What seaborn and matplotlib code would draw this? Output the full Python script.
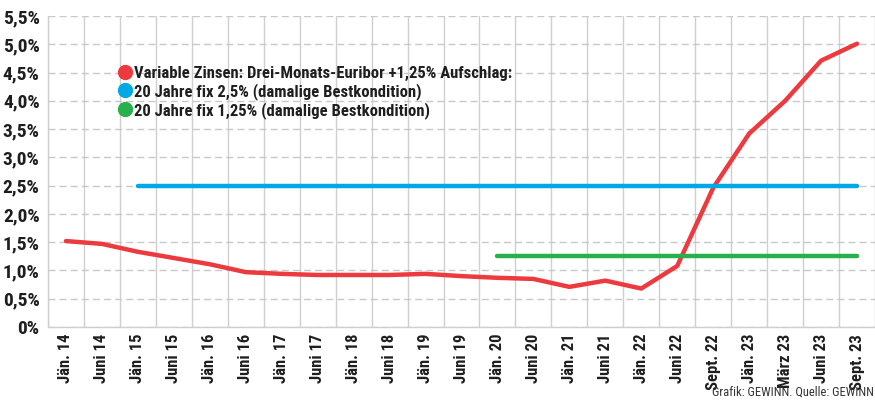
import numpy as np
import pandas as pd
import seaborn as sns
import matplotlib.pyplot as plt
from matplotlib import font_manager as fm
from matplotlib.lines import Line2D

# x categories (dates)
labels = ["Jän. 14", "Juni 14", "Jän. 15", "Juni 15", "Jän. 16", "Juni 16",
          "Jän. 17", "Juni 17", "Jän. 18", "Juni 18", "Jän. 19", "Juni 19",
          "Jän. 20", "Juni 20", "Jän. 21", "Juni 21", "Jän. 22", "Juni 22",
          "Sept. 22", "Jän. 23", "März 23", "Juni 23", "Sept. 23"]

# variable rate: 3M-Euribor + 1.25%
variabel = [1.52, 1.47, 1.33, 1.22, 1.11, 0.97, 0.94, 0.92, 0.92, 0.92,
            0.94, 0.90, 0.87, 0.85, 0.71, 0.82, 0.68, 1.08, 2.46, 3.42,
            4.00, 4.71, 5.01]
fix_25 = [np.nan, np.nan] + [2.5] * 21
fix_125 = [np.nan] * 12 + [1.25] * 11

names = ["Variable Zinsen: Drei-Monats-Euribor +1,25% Aufschlag:",
         "20 Jahre fix 2,5% (damalige Bestkondition)",
         "20 Jahre fix 1,25% (damalige Bestkondition)"]
colors = ["#ec3a3f", "#00a9e6", "#27b04b"]

pos = np.arange(len(labels))
df = pd.DataFrame({"pos": np.tile(pos, 3),
                   "wert": variabel + fix_25 + fix_125,
                   "serie": np.repeat(names, len(labels))})

# pick a condensed font that is installed
installed = {f.name for f in fm.fontManager.ttflist}
wanted = ['Roboto Condensed', 'Archivo Narrow', 'Liberation Sans Narrow',
          'DejaVu Sans Condensed']
fam = [f for f in wanted if f in installed][:1] + ['DejaVu Sans']

sns.set_style("white")
plt.rcParams['font.family'] = fam

fig = plt.figure(figsize=(8.75, 4), dpi=100)
ax = fig.add_axes([48 / 875, 1 - 327 / 400, 1 - 48 / 875, (327 - 16) / 400])

sns.lineplot(data=df.dropna(), x="pos", y="wert", hue="serie",
             hue_order=names, palette=colors, linewidth=3.2, ax=ax,
             legend=False)

ax.set_xlim(-0.5, len(labels) - 0.5)
ax.set_ylim(0, 5.5)
ax.set_xticks(pos)
ax.set_xticklabels(labels, rotation=90, fontsize=12, fontweight='heavy',
                   color='#1e1e1e')
ax.set_xticks(np.arange(-0.5, len(labels), 1), minor=True)
yt = np.arange(0, 5.51, 0.5)
ax.set_yticks(yt)
ax.set_yticklabels(["0%"] + [f"{v:.1f}%".replace(".", ",") for v in yt[1:]],
                   fontsize=14, fontweight='heavy', color='#1e1e1e')
ax.tick_params(axis='both', which='both', length=0, pad=5)
ax.tick_params(axis='y', pad=6)
ax.grid(axis='x', which='minor', color='#cfcfcf', linewidth=1, linestyle='-')
ax.grid(axis='y', which='major', color='#c8c8c8', linewidth=1,
        linestyle=(0, (5, 3)))
ax.set_axisbelow(True)
ax.set_xlabel("")
ax.set_ylabel("")
for s in ["top", "right"]:
    ax.spines[s].set_visible(False)
for s in ["left", "bottom"]:
    ax.spines[s].set_color('#cfcfcf')
    ax.spines[s].set_linewidth(1)

handles = [Line2D([], [], marker='o', linestyle='none', markersize=10,
                  markerfacecolor=c, markeredgecolor=c) for c in colors]
leg = ax.legend(handles, names, loc='upper left',
                bbox_to_anchor=(117 / 875, 1 - 66 / 400),
                bbox_transform=fig.transFigure, frameon=False,
                handletextpad=0.05, handlelength=1.0, labelspacing=0.12,
                borderaxespad=0, borderpad=0,
                prop={'size': 12, 'weight': 'heavy'})
for t in leg.get_texts():
    t.set_color('#1e1e1e')

fig.text(0.999, 0.003, "Grafik: GEWINN. Quelle: GEWINN", ha='right',
         va='bottom', fontsize=9, color='#333333')

fig.savefig("out.png", dpi=100)
